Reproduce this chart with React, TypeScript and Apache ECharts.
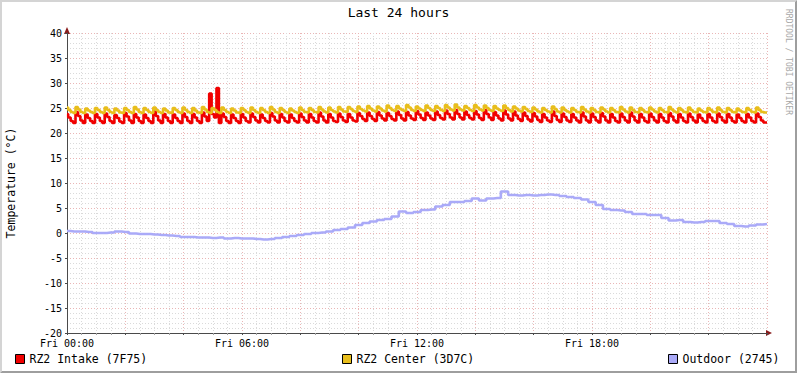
import React, { useEffect, useRef } from "react";
import * as echarts from "echarts";

const TITLE = "Last 24 hours";
const Y_TITLE = "Temperature (°C)";
const WATERMARK = "RRDTOOL / TOBI OETIKER";
const X_TICK_HOURS = [0, 6, 12, 18];
const X_TICK_LABELS = ["Fri 00:00", "Fri 06:00", "Fri 12:00", "Fri 18:00"];
const SERIES_NAMES = ["RZ2 Intake (7F75)", "RZ2 Center (3D7C)", "Outdoor (2745)"];
const STEP_MINUTES = [5, 5, 15];

// RZ2 Intake, one sample every 5 minutes, Fri 00:00 .. Sat 00:00
const intake = [
  23.8, 23.1, 22.4, 22.0, 24.2, 23.4, 22.5, 22.0, 23.7, 23.0, 22.4, 22.0,
  23.8, 23.1, 22.4, 22.0, 23.9, 23.2, 22.4, 22.0, 23.6, 23.0, 22.3, 22.0,
  24.0, 23.3, 22.5, 22.0, 23.8, 23.1, 22.4, 22.0, 23.7, 23.0, 22.4, 22.0,
  24.3, 23.4, 22.5, 22.0, 23.8, 23.1, 22.4, 22.0, 23.7, 23.0, 22.4, 22.0,
  23.9, 23.2, 22.4, 22.0, 23.8, 23.1, 22.4, 22.0, 24.1, 23.3, 22.4, 27.9,
  23.8, 23.1, 29.0, 22.0, 23.9, 23.2, 22.4, 22.0, 23.7, 23.0, 22.4, 22.0,
  23.8, 23.1, 22.4, 22.1, 23.9, 23.2, 22.5, 22.1, 23.7, 23.0, 22.4, 22.1,
  24.0, 23.3, 22.5, 22.1, 23.8, 23.1, 22.4, 22.1, 23.7, 23.0, 22.4, 22.1,
  23.9, 23.2, 22.5, 22.1, 23.8, 23.1, 22.4, 22.1, 24.1, 23.3, 22.5, 22.1,
  23.8, 23.1, 22.4, 22.2, 23.9, 23.2, 22.5, 22.2, 23.8, 23.1, 22.5, 22.3,
  24.0, 23.4, 22.8, 22.4, 24.1, 23.4, 22.8, 22.4, 24.2, 23.5, 22.9, 22.5,
  24.0, 23.4, 22.8, 22.5, 24.3, 23.6, 22.9, 22.5, 24.2, 23.5, 22.9, 22.6,
  24.4, 23.7, 23.0, 22.6, 24.1, 23.5, 22.9, 22.6, 24.3, 23.6, 23.0, 22.7,
  24.5, 23.8, 23.1, 22.7, 24.6, 23.8, 23.1, 22.7, 24.3, 23.6, 23.0, 22.7,
  24.4, 23.7, 23.0, 22.6, 24.6, 23.8, 23.1, 22.6, 24.2, 23.5, 22.9, 22.5,
  24.5, 23.7, 22.9, 22.5, 24.3, 23.5, 22.8, 22.4, 24.1, 23.4, 22.7, 22.3,
  24.0, 23.3, 22.6, 22.2, 23.8, 23.1, 22.5, 22.2, 24.3, 23.4, 22.6, 22.2,
  23.9, 23.2, 22.5, 22.2, 23.8, 23.1, 22.5, 22.1, 24.1, 23.3, 22.5, 22.1,
  23.9, 23.2, 22.5, 22.1, 24.0, 23.3, 22.5, 22.1, 23.8, 23.1, 22.4, 22.1,
  23.9, 23.2, 22.5, 22.1, 24.1, 23.3, 22.5, 22.1, 23.8, 23.1, 22.4, 22.1,
  23.9, 23.2, 22.5, 22.1, 23.8, 23.1, 22.4, 22.1, 24.0, 23.3, 22.5, 22.1,
  23.8, 23.1, 22.4, 22.1, 23.9, 23.2, 22.5, 22.1, 23.7, 23.0, 22.4, 22.1,
  23.8, 23.1, 22.4, 22.1, 23.9, 23.2, 22.5, 22.1, 23.8, 23.1, 22.4, 22.1,
  23.7, 23.0, 22.4, 22.1, 23.8, 23.1, 22.4, 22.1, 23.9, 23.2, 22.5, 22.1,
  22.1,
];

// RZ2 Center, one sample every 5 minutes
const center = [
  25.1, 24.6, 24.2, 24.0, 25.2, 24.7, 24.2, 24.0, 24.9, 24.5, 24.2, 24.0,
  25.0, 24.6, 24.2, 24.0, 25.1, 24.6, 24.2, 24.0, 24.9, 24.5, 24.1, 24.0,
  25.0, 24.6, 24.2, 24.0, 25.2, 24.7, 24.2, 24.0, 25.0, 24.6, 24.2, 24.0,
  25.1, 24.6, 24.2, 24.0, 24.9, 24.5, 24.1, 24.0, 25.0, 24.6, 24.2, 24.0,
  25.1, 24.6, 24.2, 24.0, 25.0, 24.5, 24.1, 24.0, 25.2, 24.7, 24.2, 24.0,
  25.0, 24.6, 24.2, 24.0, 25.1, 24.6, 24.2, 24.0, 24.9, 24.5, 24.1, 24.0,
  25.0, 24.6, 24.2, 24.0, 25.1, 24.6, 24.2, 24.0, 25.0, 24.6, 24.2, 24.0,
  25.2, 24.7, 24.2, 24.0, 25.0, 24.6, 24.2, 24.0, 24.9, 24.5, 24.2, 24.0,
  25.1, 24.6, 24.2, 24.1, 25.0, 24.6, 24.2, 24.1, 25.2, 24.7, 24.3, 24.1,
  25.1, 24.6, 24.3, 24.1, 25.2, 24.7, 24.3, 24.2, 25.2, 24.8, 24.4, 24.2,
  25.3, 24.8, 24.5, 24.3, 25.4, 24.9, 24.5, 24.3, 25.3, 24.9, 24.5, 24.3,
  25.5, 25.0, 24.6, 24.4, 25.4, 24.9, 24.6, 24.4, 25.6, 25.1, 24.6, 24.4,
  25.3, 24.9, 24.6, 24.4, 25.5, 25.0, 24.6, 24.4, 25.4, 25.0, 24.6, 24.4,
  25.6, 25.1, 24.7, 24.5, 25.7, 25.1, 24.7, 24.5, 25.4, 25.0, 24.6, 24.4,
  25.6, 25.1, 24.7, 24.5, 25.5, 25.0, 24.6, 24.4, 25.4, 24.9, 24.6, 24.4,
  25.5, 25.0, 24.6, 24.3, 25.3, 24.9, 24.5, 24.3, 25.2, 24.8, 24.4, 24.2,
  25.1, 24.7, 24.3, 24.1, 25.0, 24.6, 24.3, 24.1, 25.3, 24.8, 24.3, 24.1,
  25.1, 24.6, 24.3, 24.1, 25.0, 24.6, 24.2, 24.1, 25.2, 24.7, 24.3, 24.1,
  25.0, 24.6, 24.2, 24.1, 25.1, 24.7, 24.3, 24.1, 25.0, 24.6, 24.2, 24.1,
  25.2, 24.7, 24.3, 24.1, 25.1, 24.6, 24.2, 24.1, 25.0, 24.6, 24.2, 24.1,
  25.1, 24.7, 24.3, 24.1, 25.0, 24.6, 24.2, 24.1, 25.2, 24.7, 24.3, 24.1,
  25.0, 24.6, 24.2, 24.1, 25.1, 24.6, 24.2, 24.1, 24.9, 24.5, 24.2, 24.1,
  25.0, 24.6, 24.2, 24.1, 25.1, 24.6, 24.2, 24.1, 25.0, 24.6, 24.2, 24.1,
  24.9, 24.5, 24.2, 24.1, 25.0, 24.6, 24.2, 24.1, 25.1, 24.6, 24.2, 24.1,
  24.1,
];

// Outdoor, one sample every 15 minutes
const outdoor = [
  0.4, 0.3, 0.3, 0.2, 0.0, 0.0, 0.1, 0.3, 0.2, -0.1, -0.2, -0.2,
  -0.3, -0.4, -0.5, -0.6, -0.8, -0.8, -0.9, -0.9, -1.0, -0.9, -1.1, -1.0,
  -1.1, -1.1, -1.2, -1.3, -1.2, -1.0, -0.8, -0.6, -0.4, -0.2, 0.0, 0.1,
  0.3, 0.6, 0.8, 1.1, 1.6, 2.0, 2.3, 2.6, 2.8, 3.3, 4.3, 4.0,
  4.2, 4.6, 4.7, 5.3, 5.6, 6.2, 6.2, 6.4, 6.9, 6.5, 6.9, 7.0,
  8.3, 7.6, 7.5, 7.6, 7.5, 7.6, 7.7, 7.6, 7.4, 7.2, 7.0, 6.7,
  6.2, 5.6, 4.8, 4.6, 4.5, 4.2, 3.8, 3.8, 3.6, 3.6, 3.0, 2.5,
  2.6, 2.2, 2.1, 2.2, 2.4, 2.4, 2.0, 1.8, 1.4, 1.3, 1.5, 1.7,
  1.8,
];

const SERIES_VALUES = [intake, center, outdoor];
const SERIES_COLORS = ["#F00000", "#E8BE1C", "#AAAAF8"];
const LEGEND_LEFT = [15, 342, 668];
const FONT = "'DejaVu Sans Mono', monospace";

export default function App() {
  const ref = useRef<HTMLDivElement>(null);

  useEffect(() => {
    document.body.style.margin = "0";
    if (!ref.current) return;
    const chart = echarts.init(ref.current, undefined, { renderer: "svg" });

    const series = SERIES_VALUES.map((vals, si) => ({
      name: SERIES_NAMES[si],
      type: "line",
      step: "middle",
      showSymbol: false,
      silent: true,
      color: SERIES_COLORS[si],
      lineStyle: { width: 2.6, color: SERIES_COLORS[si] },
      data: vals.map((v, i) => [(i * STEP_MINUTES[si]) / 60, v]),
      z: 2 + si,
    }));

    const option: any = {
      animation: false,
      backgroundColor: "#FFFFFF",
      textStyle: { fontFamily: FONT },
      title: {
        text: TITLE,
        left: "center",
        top: 6,
        padding: 0,
        textStyle: { fontFamily: FONT, fontSize: 13, fontWeight: "normal", color: "#000" },
      },
      grid: { left: 67, top: 33, right: 30, bottom: 40, containLabel: false },
      xAxis: {
        type: "value",
        min: 0,
        max: 24,
        interval: 2,
        axisLine: { show: true, onZero: false, lineStyle: { color: "#4a4a4a", width: 1 } },
        axisTick: { show: true, length: 2, lineStyle: { color: "#4a4a4a" } },
        minorTick: { show: true, splitNumber: 4, length: 2, lineStyle: { color: "#a0a0a0" } },
        axisLabel: {
          fontFamily: FONT,
          fontSize: 10,
          lineHeight: 10,
          color: "#000",
          margin: 5,
          showMaxLabel: false,
          formatter: (v: number) => {
            const i = X_TICK_HOURS.indexOf(v);
            return i >= 0 ? X_TICK_LABELS[i] : "";
          },
        },
        splitLine: { show: true, lineStyle: { color: "#EAB6B6", type: [1, 2], width: 1 } },
        minorSplitLine: { show: true, lineStyle: { color: "#DADADA", type: [1, 2], width: 1 } },
      },
      yAxis: {
        type: "value",
        min: -20,
        max: 40,
        interval: 5,
        axisLine: { show: true, onZero: false, lineStyle: { color: "#4a4a4a", width: 1 } },
        axisTick: { show: true, length: 2, lineStyle: { color: "#4a4a4a" } },
        minorTick: { show: false, splitNumber: 5 },
        axisLabel: {
          fontFamily: FONT,
          fontSize: 10,
          lineHeight: 8,
          color: "#000",
          margin: 5,
          padding: [0, 0, 2, 0],
        },
        splitLine: { show: true, lineStyle: { color: "#EAB6B6", type: [1, 2], width: 1 } },
        minorSplitLine: { show: true, lineStyle: { color: "#DADADA", type: [1, 2], width: 1 } },
      },
      legend: SERIES_NAMES.map((name, i) => ({
        data: [name],
        left: LEGEND_LEFT[i],
        top: 353,
        padding: 0,
        itemGap: 0,
        itemWidth: 9,
        itemHeight: 9,
        icon: "rect",
        selectedMode: false,
        itemStyle: { borderColor: "#000", borderWidth: 1 },
        textStyle: { fontFamily: FONT, fontSize: 11.5, color: "#000" },
      })),
      series,
      graphic: [
        {
          type: "polygon",
          silent: true,
          shape: { points: [[0, 0], [797, 0], [795, 2], [2, 2], [2, 371], [0, 373]] },
          style: { fill: "#D4D4D4" },
        },
        {
          type: "polygon",
          silent: true,
          shape: { points: [[797, 0], [797, 373], [0, 373], [2, 371], [795, 371], [795, 2]] },
          style: { fill: "#9E9E9E" },
        },
        {
          type: "polygon",
          silent: true,
          shape: { points: [[766, 330], [772, 333], [766, 336]] },
          style: { fill: "#8A1C1C" },
        },
        {
          type: "polygon",
          silent: true,
          shape: { points: [[64, 34], [67, 27], [70, 34]] },
          style: { fill: "#8A1C1C" },
        },
        {
          type: "text",
          silent: true,
          x: 11,
          y: 183,
          rotation: Math.PI / 2,
          style: {
            text: Y_TITLE,
            fontFamily: FONT,
            fontSize: 11.5,
            fill: "#000",
            align: "center",
            verticalAlign: "middle",
          },
        },
        {
          type: "text",
          silent: true,
          x: 788,
          y: 62,
          rotation: -Math.PI / 2,
          style: {
            text: WATERMARK,
            fontFamily: FONT,
            fontSize: 8,
            fill: "#A8A8A8",
            align: "center",
            verticalAlign: "middle",
          },
        },
      ],
    };

    chart.setOption(option);
    return () => chart.dispose();
  }, []);

  return <div ref={ref} style={{ width: 797, height: 373 }} />;
}
